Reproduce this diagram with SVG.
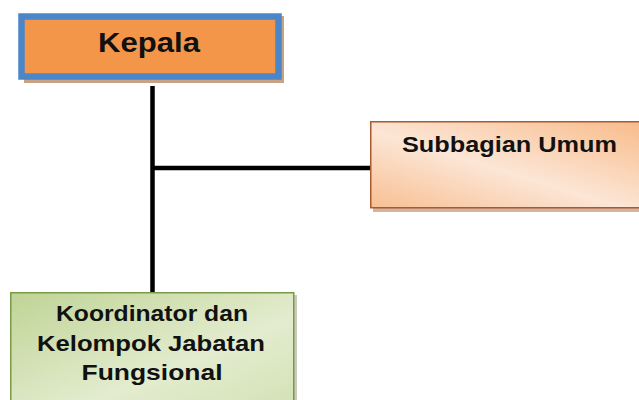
<svg xmlns="http://www.w3.org/2000/svg" width="639" height="400" viewBox="0 0 639 400">
<defs>
<linearGradient id="gOrange" x1="0" y1="1" x2="1" y2="0">
<stop offset="0" stop-color="#F8BF92"/>
<stop offset="0.45" stop-color="#FCE6D6"/>
<stop offset="1" stop-color="#F8BA88"/>
</linearGradient>
<linearGradient id="gGreen" x1="0" y1="0" x2="1" y2="1">
<stop offset="0" stop-color="#BFD496"/>
<stop offset="0.6" stop-color="#E3ECCF"/>
<stop offset="1" stop-color="#D2E1B3"/>
</linearGradient>
</defs>
<style>
.t{font-family:"Liberation Sans",Arial,sans-serif;font-weight:bold;fill:#111;text-anchor:middle}
.conn{stroke:#000;stroke-width:4.5;fill:none}
</style>
<rect width="639" height="400" fill="#fff"/>
<g id="connectors">
<line class="conn" x1="152.5" y1="86" x2="152.5" y2="292"/>
<line class="conn" x1="152.5" y1="168" x2="371" y2="168"/>
</g>
<g id="kepala">
<rect x="24" y="16" width="260" height="67" fill="#C9A283"/>
<rect x="21.5" y="16.5" width="257" height="60" fill="#F4964A" stroke="#4A86C8" stroke-width="6.5"/>
<text class="t" x="149" y="52" font-size="28" textLength="102" lengthAdjust="spacingAndGlyphs">Kepala</text>
</g>
<g id="subbagian-umum">
<rect x="373" y="124" width="280" height="88" fill="#C9A283" opacity="0.8"/>
<rect x="370.75" y="121.75" width="280" height="86" fill="url(#gOrange)" stroke="#A85A30" stroke-width="1.5"/>
<text class="t" x="509.5" y="152" font-size="22.5" textLength="215" lengthAdjust="spacingAndGlyphs">Subbagian Umum</text>
</g>
<g id="koordinator">
<rect x="13" y="295" width="284" height="120" fill="#B4B4A4" opacity="0.7"/>
<rect x="10.75" y="292.75" width="283" height="120" fill="url(#gGreen)" stroke="#7A9A48" stroke-width="1.5"/>
<text class="t" x="152" y="321" font-size="22" textLength="192" lengthAdjust="spacingAndGlyphs">Koordinator dan</text>
<text class="t" x="151" y="351" font-size="22" textLength="228" lengthAdjust="spacingAndGlyphs">Kelompok Jabatan</text>
<text class="t" x="152" y="380" font-size="22" textLength="141" lengthAdjust="spacingAndGlyphs">Fungsional</text>
</g>
</svg>
